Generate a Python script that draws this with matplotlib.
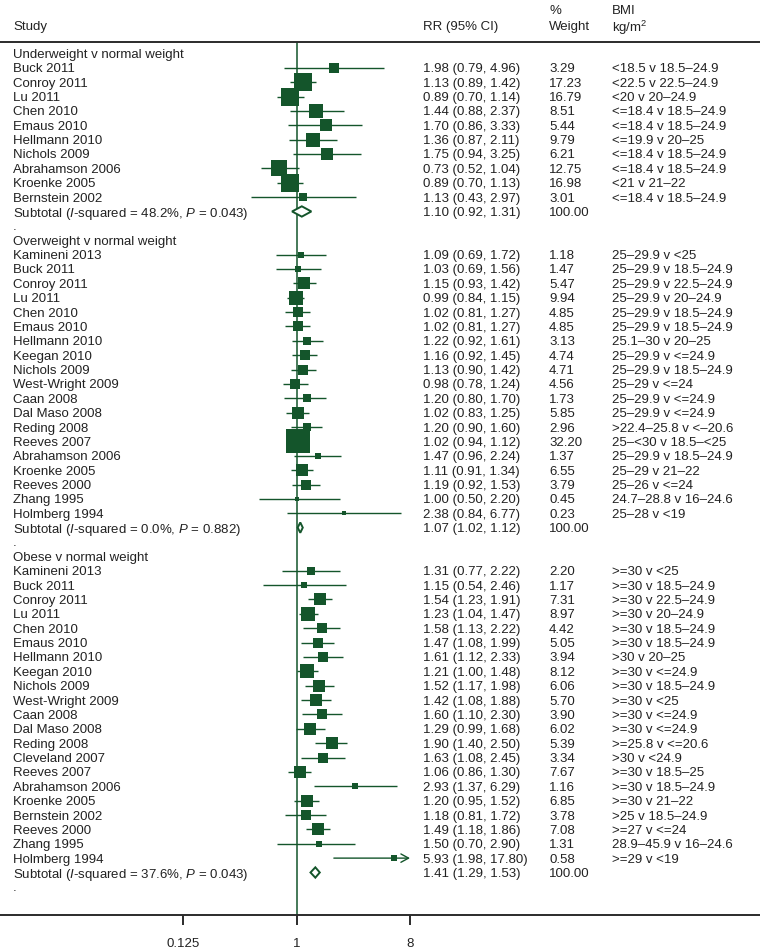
import numpy as np
import matplotlib
matplotlib.use('Agg')
import matplotlib.pyplot as plt
import matplotlib.transforms as mtransforms
from matplotlib.patches import Polygon
from matplotlib.ticker import NullLocator

plt.rcParams['font.family'] = ['Liberation Sans', 'DejaVu Sans']
plt.rcParams['mathtext.fontset'] = 'custom'
plt.rcParams['mathtext.rm'] = 'Liberation Sans'
plt.rcParams['mathtext.it'] = 'Liberation Sans:italic'

GREEN = '#14552b'
TXT = '#222222'
AXC = '#2b2b2b'
FS = 9.5

# underweight v normal weight
uw_study = ['Buck 2011', 'Conroy 2011', 'Lu 2011', 'Chen 2010', 'Emaus 2010', 'Hellmann 2010',
            'Nichols 2009', 'Abrahamson 2006', 'Kroenke 2005', 'Bernstein 2002']
uw_rr = [1.98, 1.13, 0.89, 1.44, 1.70, 1.36, 1.75, 0.73, 0.89, 1.13]
uw_lci = [0.79, 0.89, 0.70, 0.88, 0.86, 0.87, 0.94, 0.52, 0.70, 0.43]
uw_uci = [4.96, 1.42, 1.14, 2.37, 3.33, 2.11, 3.25, 1.04, 1.13, 2.97]
uw_wt = [3.29, 17.23, 16.79, 8.51, 5.44, 9.79, 6.21, 12.75, 16.98, 3.01]
uw_bmi = ['<18.5 v 18.5–24.9', '<22.5 v 22.5–24.9', '<20 v 20–24.9', '<=18.4 v 18.5–24.9',
          '<=18.4 v 18.5–24.9', '<=19.9 v 20–25', '<=18.4 v 18.5–24.9', '<=18.4 v 18.5–24.9',
          '<21 v 21–22', '<=18.4 v 18.5–24.9']
uw_sub = [1.10, 0.92, 1.31]
uw_i2 = '48.2%'
uw_p = '0.043'

# overweight v normal weight
ow_study = ['Kamineni 2013', 'Buck 2011', 'Conroy 2011', 'Lu 2011', 'Chen 2010', 'Emaus 2010',
            'Hellmann 2010', 'Keegan 2010', 'Nichols 2009', 'West-Wright 2009', 'Caan 2008',
            'Dal Maso 2008', 'Reding 2008', 'Reeves 2007', 'Abrahamson 2006', 'Kroenke 2005',
            'Reeves 2000', 'Zhang 1995', 'Holmberg 1994']
ow_rr = [1.09, 1.03, 1.15, 0.99, 1.02, 1.02, 1.22, 1.16, 1.13, 0.98, 1.20, 1.02, 1.20, 1.02,
         1.47, 1.11, 1.19, 1.00, 2.38]
ow_lci = [0.69, 0.69, 0.93, 0.84, 0.81, 0.81, 0.92, 0.92, 0.90, 0.78, 0.80, 0.83, 0.90, 0.94,
          0.96, 0.91, 0.92, 0.50, 0.84]
ow_uci = [1.72, 1.56, 1.42, 1.15, 1.27, 1.27, 1.61, 1.45, 1.42, 1.24, 1.70, 1.25, 1.60, 1.12,
          2.24, 1.34, 1.53, 2.20, 6.77]
ow_wt = [1.18, 1.47, 5.47, 9.94, 4.85, 4.85, 3.13, 4.74, 4.71, 4.56, 1.73, 5.85, 2.96, 32.20,
         1.37, 6.55, 3.79, 0.45, 0.23]
ow_bmi = ['25–29.9 v <25', '25–29.9 v 18.5–24.9', '25–29.9 v 22.5–24.9', '25–29.9 v 20–24.9',
          '25–29.9 v 18.5–24.9', '25–29.9 v 18.5–24.9', '25.1–30 v 20–25', '25–29.9 v <=24.9',
          '25–29.9 v 18.5–24.9', '25–29 v <=24', '25–29.9 v <=24.9', '25–29.9 v <=24.9',
          '>22.4–25.8 v <–20.6', '25–<30 v 18.5–<25', '25–29.9 v 18.5–24.9', '25–29 v 21–22',
          '25–26 v <=24', '24.7–28.8 v 16–24.6', '25–28 v <19']
ow_sub = [1.07, 1.02, 1.12]
ow_i2 = '0.0%'
ow_p = '0.882'

# obese v normal weight
ob_study = ['Kamineni 2013', 'Buck 2011', 'Conroy 2011', 'Lu 2011', 'Chen 2010', 'Emaus 2010',
            'Hellmann 2010', 'Keegan 2010', 'Nichols 2009', 'West-Wright 2009', 'Caan 2008',
            'Dal Maso 2008', 'Reding 2008', 'Cleveland 2007', 'Reeves 2007', 'Abrahamson 2006',
            'Kroenke 2005', 'Bernstein 2002', 'Reeves 2000', 'Zhang 1995', 'Holmberg 1994']
ob_rr = [1.31, 1.15, 1.54, 1.23, 1.58, 1.47, 1.61, 1.21, 1.52, 1.42, 1.60, 1.29, 1.90, 1.63,
         1.06, 2.93, 1.20, 1.18, 1.49, 1.50, 5.93]
ob_lci = [0.77, 0.54, 1.23, 1.04, 1.13, 1.08, 1.12, 1.00, 1.17, 1.08, 1.10, 0.99, 1.40, 1.08,
          0.86, 1.37, 0.95, 0.81, 1.18, 0.70, 1.98]
ob_uci = [2.22, 2.46, 1.91, 1.47, 2.22, 1.99, 2.33, 1.48, 1.98, 1.88, 2.30, 1.68, 2.50, 2.45,
          1.30, 6.29, 1.52, 1.72, 1.86, 2.90, 17.80]
ob_wt = [2.20, 1.17, 7.31, 8.97, 4.42, 5.05, 3.94, 8.12, 6.06, 5.70, 3.90, 6.02, 5.39, 3.34,
         7.67, 1.16, 6.85, 3.78, 7.08, 1.31, 0.58]
ob_bmi = ['>=30 v <25', '>=30 v 18.5–24.9', '>=30 v 22.5–24.9', '>=30 v 20–24.9',
          '>=30 v 18.5–24.9', '>=30 v 18.5–24.9', '>30 v 20–25', '>=30 v <=24.9',
          '>=30 v 18.5–24.9', '>=30 v <25', '>=30 v <=24.9', '>=30 v <=24.9', '>=25.8 v <=20.6',
          '>30 v <24.9', '>=30 v 18.5–25', '>=30 v 18.5–24.9', '>=30 v 21–22', '>25 v 18.5–24.9',
          '>=27 v <=24', '28.9–45.9 v 16–24.6', '>=29 v <19']
ob_sub = [1.41, 1.29, 1.53]
ob_i2 = '37.6%'
ob_p = '0.043'

groups = [
    ('Underweight v normal weight', uw_study, uw_rr, uw_lci, uw_uci, uw_wt, uw_bmi, uw_sub, uw_i2, uw_p),
    ('Overweight v normal weight', ow_study, ow_rr, ow_lci, ow_uci, ow_wt, ow_bmi, ow_sub, ow_i2, ow_p),
    ('Obese v normal weight', ob_study, ob_rr, ob_lci, ob_uci, ob_wt, ob_bmi, ob_sub, ob_i2, ob_p),
]

xticks = [0.125, 1, 8]
clip_hi = 8

# pixel layout
W, H = 760, 950
x_one = 296.6
px_per_dbl = 37.8
row0 = 53.4
dy = 14.37
top_px = 41.7
bot_px = 915

fig = plt.figure(figsize=(W / 100, H / 100), dpi=100)
ax = fig.add_axes([0, (H - bot_px) / H, 1, (bot_px - top_px) / H])
ax.set_xscale('log', base=2)
ax.set_xlim(2 ** (-x_one / px_per_dbl), 2 ** ((W - x_one) / px_per_dbl))
ax.set_ylim((bot_px - row0) / dy, (top_px - row0) / dy)

trans = mtransforms.blended_transform_factory(ax.transAxes, ax.transData)
c_study = 13 / W
c_rr = 423 / W
c_wt = 549 / W
c_bmi = 612 / W


def put(x, y, s):
    ax.text(x, y, s, transform=trans, fontsize=FS, color=TXT, ha='left', va='center_baseline')


# header
put(c_study, (25 - row0) / dy, 'Study')
put(c_rr, (25 - row0) / dy, 'RR (95% CI)')
put(c_wt, (9.5 - row0) / dy, '%')
put(c_wt, (25 - row0) / dy, 'Weight')
put(c_bmi, (9.5 - row0) / dy, 'BMI')
put(c_bmi, (25 - row0) / dy, 'kg/m$^2$')

ax.axvline(1, color=GREEN, lw=1.1, zorder=1)

row = 0
for label, study, rr, lci, uci, wt, bmi, sub, i2, p in groups:
    put(c_study, row, label)
    row += 1
    for j in range(len(study)):
        put(c_study, row, study[j])
        put(c_rr, row, '%.2f (%.2f, %.2f)' % (rr[j], lci[j], uci[j]))
        put(c_wt, row, '%.2f' % wt[j])
        put(c_bmi, row, bmi[j])
        if uci[j] > clip_hi:
            ax.annotate('', xy=(clip_hi, row), xytext=(lci[j], row),
                        arrowprops=dict(arrowstyle='->,head_length=0.55,head_width=0.3',
                                        color=GREEN, lw=1.0, shrinkA=0, shrinkB=0))
        else:
            ax.hlines(row, lci[j], uci[j], color=GREEN, lw=1.0, zorder=2)
        side = 2.15 + 3.85 * np.sqrt(wt[j])
        ax.scatter([rr[j]], [row], marker='s', s=(side * 0.72) ** 2, color=GREEN,
                   linewidths=0, zorder=3)
        row += 1
    put(c_study, row, 'Subtotal ($I$-squared = %s, $P$ = %s)' % (i2, p))
    put(c_rr, row, '%.2f (%.2f, %.2f)' % (sub[0], sub[1], sub[2]))
    put(c_wt, row, '100.00')
    hh = 0.36
    dia = Polygon([(sub[1], row), (sub[0], row - hh), (sub[2], row), (sub[0], row + hh)],
                  closed=True, facecolor='white', edgecolor=GREEN, lw=1.4, zorder=3)
    ax.add_patch(dia)
    row += 1
    put(c_study, row, '.')
    row += 1

ax.set_xticks(xticks)
ax.set_xticklabels(['0.125', '1', '8'])
ax.xaxis.set_minor_locator(NullLocator())
ax.tick_params(axis='x', direction='out', length=7.2, width=1.4, color=AXC,
               labelsize=FS, labelcolor=TXT, pad=9.5)
ax.set_yticks([])
for side_name in ['left', 'right']:
    ax.spines[side_name].set_visible(False)
for side_name in ['top', 'bottom']:
    ax.spines[side_name].set_color(AXC)
    ax.spines[side_name].set_linewidth(1.4)

fig.savefig('out.png', dpi=100)
